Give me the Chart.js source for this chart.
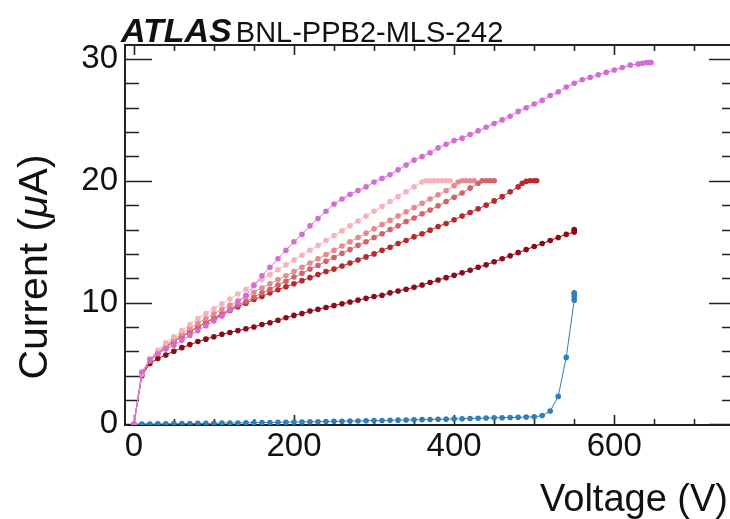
<!DOCTYPE html>
<html><head><meta charset="utf-8">
<script src="https://cdn.jsdelivr.net/npm/chart.js@4.4.1/dist/chart.umd.min.js"></script>
<style>
html,body{margin:0;padding:0;overflow:hidden;background:#fff;width:730px;height:519px}
#wrap{position:relative;width:760px;height:519px}
</style></head>
<body><div id="wrap"><canvas id="c" width="760" height="519"></canvas></div>
<script>
// ---------------- data ----------------
const xTickLabels = [0, 200, 400, 600];
const yTickLabels = [0, 10, 20, 30];

const magentaV = [0,10,20,30,40,50,60,70,80,90,100,110,120,130,140,150,160,170,180,190,200,210,220,230,240,250,260,270,280,290,300,310,320,330,340,350,360,370,380,390,400,410,420,430,440,450,460,470,480,490,500,510,520,530,540,550,560,570,580,590,600,610,620,630,635,640,643,646];
const magentaI = [0,4.3,5.3,5.8,6.2,6.5,6.9,7.3,7.7,8.1,8.5,8.9,9.4,10.0,10.6,11.4,12.2,12.9,13.6,14.3,15.0,15.6,16.3,16.9,17.5,18.1,18.5,18.9,19.2,19.5,19.9,20.2,20.5,20.9,21.3,21.7,22.0,22.3,22.7,23.0,23.3,23.5,23.8,24.1,24.4,24.7,25.0,25.3,25.7,26.0,26.3,26.6,27.0,27.3,27.7,28.0,28.3,28.5,28.7,28.9,29.1,29.3,29.5,29.6,29.65,29.7,29.7,29.7];

const lightPinkV = [0,10,20,30,40,50,60,70,80,90,100,110,120,130,140,150,160,170,180,190,200,210,220,230,240,250,260,270,280,290,300,310,320,330,340,350,360,365,370,375,380,385,390,395];
const lightPinkI = [0,4.2,5.4,6.1,6.7,7.2,7.7,8.2,8.7,9.1,9.5,9.9,10.3,10.7,11.1,11.5,11.9,12.3,12.7,13.1,13.5,13.9,14.3,14.7,15.1,15.5,15.9,16.3,16.7,17.1,17.5,17.9,18.3,18.7,19.1,19.5,19.9,20.0,20.0,20.0,20.0,20.0,20.0,20.0];

const salmonV = [0,10,20,30,40,50,60,70,80,90,100,110,120,130,140,150,160,170,180,190,200,210,220,230,240,250,260,270,280,290,300,310,320,330,340,350,360,370,380,390,400,405,410,415,420,425];
const salmonI = [0,4.1,5.3,6.0,6.5,7.0,7.45,7.9,8.3,8.7,9.1,9.45,9.8,10.15,10.5,10.85,11.2,11.55,11.9,12.2,12.55,12.9,13.25,13.6,13.95,14.3,14.65,15.0,15.35,15.7,16.05,16.4,16.75,17.1,17.45,17.8,18.15,18.5,18.85,19.2,19.6,19.9,20.0,20.0,20.0,20.0];

const indianRedV = [0,10,20,30,40,50,60,70,80,90,100,110,120,130,140,150,160,170,180,190,200,210,220,230,240,250,260,270,280,290,300,310,320,330,340,350,360,370,380,390,400,410,420,430,435,440,445,450];
const indianRedI = [0,4.1,5.2,5.9,6.4,6.85,7.25,7.65,8.0,8.4,8.75,9.1,9.45,9.8,10.1,10.45,10.8,11.1,11.45,11.75,12.1,12.4,12.75,13.05,13.4,13.7,14.05,14.35,14.7,15.0,15.35,15.65,16.0,16.3,16.65,16.95,17.3,17.6,17.95,18.3,18.65,19.0,19.4,19.8,20.0,20.0,20.0,20.0];

const firebrickV = [0,10,20,30,40,50,60,70,80,90,100,110,120,130,140,150,160,170,180,190,200,210,220,230,240,250,260,270,280,290,300,310,320,330,340,350,360,370,380,390,400,410,420,430,440,450,460,470,480,485,490,495,500,503];
const firebrickI = [0,4.1,5.2,5.8,6.3,6.8,7.2,7.6,8.0,8.35,8.7,9.0,9.35,9.65,9.95,10.25,10.5,10.8,11.05,11.3,11.55,11.8,12.05,12.3,12.55,12.75,13.0,13.25,13.5,13.75,14.0,14.3,14.55,14.85,15.1,15.4,15.65,15.95,16.25,16.5,16.8,17.1,17.4,17.7,18.0,18.35,18.7,19.1,19.5,19.8,19.95,20.0,20.0,20.0];

const darkRedV = [0,10,20,30,40,50,60,70,80,90,100,110,120,130,140,150,160,170,180,190,200,210,220,230,240,250,260,270,280,290,300,310,320,330,340,350,360,370,380,390,400,410,420,430,440,450,460,470,480,490,500,510,520,530,540,550,550,550];
const darkRedI = [0,4.0,5.0,5.4,5.7,6.0,6.3,6.55,6.8,7.0,7.2,7.4,7.55,7.7,7.85,8.0,8.2,8.35,8.55,8.75,8.95,9.1,9.3,9.45,9.6,9.75,9.9,10.05,10.2,10.35,10.5,10.6,10.8,10.95,11.1,11.25,11.45,11.65,11.85,12.05,12.25,12.45,12.65,12.9,13.1,13.35,13.6,13.85,14.1,14.35,14.6,14.85,15.1,15.35,15.6,15.8,15.9,16.0];

const blueV = [0,10,20,30,40,50,60,70,80,90,100,110,120,130,140,150,160,170,180,190,200,210,220,230,240,250,260,270,280,290,300,310,320,330,340,350,360,370,380,390,400,410,420,430,440,450,460,470,480,490,500,510,520,530,540,550,550,550,550];
const blueI = [0,0.02,0.03,0.04,0.05,0.06,0.06,0.07,0.08,0.08,0.09,0.1,0.11,0.12,0.13,0.14,0.15,0.16,0.17,0.18,0.19,0.2,0.21,0.22,0.24,0.25,0.26,0.27,0.28,0.3,0.31,0.32,0.34,0.35,0.36,0.38,0.39,0.4,0.42,0.43,0.45,0.46,0.48,0.5,0.52,0.54,0.55,0.57,0.58,0.6,0.62,0.72,1.1,2.3,5.5,10.2,10.5,10.7,10.8];

const seriesColors = ['#d56bd6','#f5b3be','#e68a8f','#d0646b','#b52a2f','#8d0b16','#2f7fb8'];

// ---------------- chart ----------------
const FONT = '"Liberation Sans", Arial, Helvetica, sans-serif';
const pairs = (V, I) => V.map((v, k) => ({x: v, y: I[k]}));
const mk = (V, I, c) => ({data: pairs(V, I), borderColor: c, backgroundColor: c, pointBackgroundColor: c,
  pointBorderWidth: 0, pointRadius: 2.8, borderWidth: 1, showLine: true, tension: 0});

const frame = {
  id: 'frame',
  beforeDatasetsDraw(chart) {
    const {ctx, chartArea: a, scales: {x, y}} = chart;
    ctx.save();
    ctx.strokeStyle = '#222';
    ctx.lineWidth = 2;
    ctx.strokeRect(a.left, a.top, a.right - a.left, a.bottom - a.top);
    ctx.lineWidth = 1.6;
    ctx.beginPath();
    for (let v = 0; v <= 30; v += 2) {
      const py = Math.round(y.getPixelForValue(v)) + 0.5;
      const L = (v % 10 === 0) ? 27 : 14;
      ctx.moveTo(a.left, py); ctx.lineTo(a.left + L, py);
      ctx.moveTo(a.right, py); ctx.lineTo(a.right - L, py);
    }
    for (let v = 0; v <= 750; v += 50) {
      const px = Math.round(x.getPixelForValue(v)) + 0.5;
      const L = (v % 200 === 0) ? 10 : 6;
      ctx.moveTo(px, a.bottom); ctx.lineTo(px, a.bottom - L);
      ctx.moveTo(px, a.top); ctx.lineTo(px, a.top + L);
    }
    ctx.stroke();
    ctx.restore();
  },
  afterDraw(chart) {
    const {ctx} = chart;
    ctx.save();
    ctx.fillStyle = '#111';
    ctx.textBaseline = 'alphabetic';
    // ATLAS label
    ctx.font = 'italic bold 34px ' + FONT;
    ctx.fillText('ATLAS', 121, 42);
    const w = ctx.measureText('ATLAS').width;
    ctx.font = '29px ' + FONT;
    ctx.fillText('BNL-PPB2-MLS-242', 121 + w + 4, 42);
    // x title, right aligned
    ctx.font = '38px ' + FONT;
    ctx.textAlign = 'right';
    ctx.fillText('Voltage (V)', 728, 511);
    // y title, rotated, with italic mu
    ctx.translate(47, 267);
    ctx.rotate(-Math.PI / 2);
    ctx.textAlign = 'left';
    const p1 = 'Current (', p2 = 'μ', p3 = 'A)';
    const SZ = 41;
    ctx.font = SZ + 'px ' + FONT; const w1 = ctx.measureText(p1).width, w3 = ctx.measureText(p3).width;
    ctx.font = 'italic ' + SZ + 'px ' + FONT; const w2 = ctx.measureText(p2).width;
    let sx = -(w1 + w2 + w3) / 2;
    ctx.font = SZ + 'px ' + FONT; ctx.fillText(p1, sx, 0); sx += w1;
    ctx.font = 'italic ' + SZ + 'px ' + FONT; ctx.fillText(p2, sx, 0); sx += w2;
    ctx.font = SZ + 'px ' + FONT; ctx.fillText(p3, sx, 0);
    ctx.restore();
  }
};

new Chart(document.getElementById('c'), {
  type: 'scatter',
  data: {datasets: [
    mk(magentaV, magentaI, seriesColors[0]),
    mk(lightPinkV, lightPinkI, seriesColors[1]),
    mk(salmonV, salmonI, seriesColors[2]),
    mk(indianRedV, indianRedI, seriesColors[3]),
    mk(firebrickV, firebrickI, seriesColors[4]),
    mk(darkRedV, darkRedI, seriesColors[5]),
    mk(blueV, blueI, seriesColors[6])
  ]},
  options: {
    responsive: false, animation: false, devicePixelRatio: 1,
    layout: {padding: {top: 45, right: 24, left: 0, bottom: 0}},
    plugins: {legend: {display: false}, tooltip: {enabled: false}, title: {display: false}},
    scales: {
      x: {
        type: 'linear', min: -11, max: 752,
        afterBuildTicks: s => { s.ticks = xTickLabels.map(v => ({value: v})); },
        afterFit: s => { s.height = 94; },
        grid: {display: false, drawTicks: false}, border: {display: false},
        ticks: {font: {family: FONT, size: 33}, color: '#111', padding: 2, maxRotation: 0, autoSkip: false}
      },
      y: {
        type: 'linear', min: -0.05, max: 31.15,
        afterBuildTicks: s => { s.ticks = yTickLabels.map(v => ({value: v})); },
        afterFit: s => { s.width = 125; },
        grid: {display: false, drawTicks: false}, border: {display: false},
        ticks: {font: {family: FONT, size: 33}, color: '#111', padding: 7, autoSkip: false}
      }
    }
  },
  plugins: [frame]
});
</script>
</body></html>
